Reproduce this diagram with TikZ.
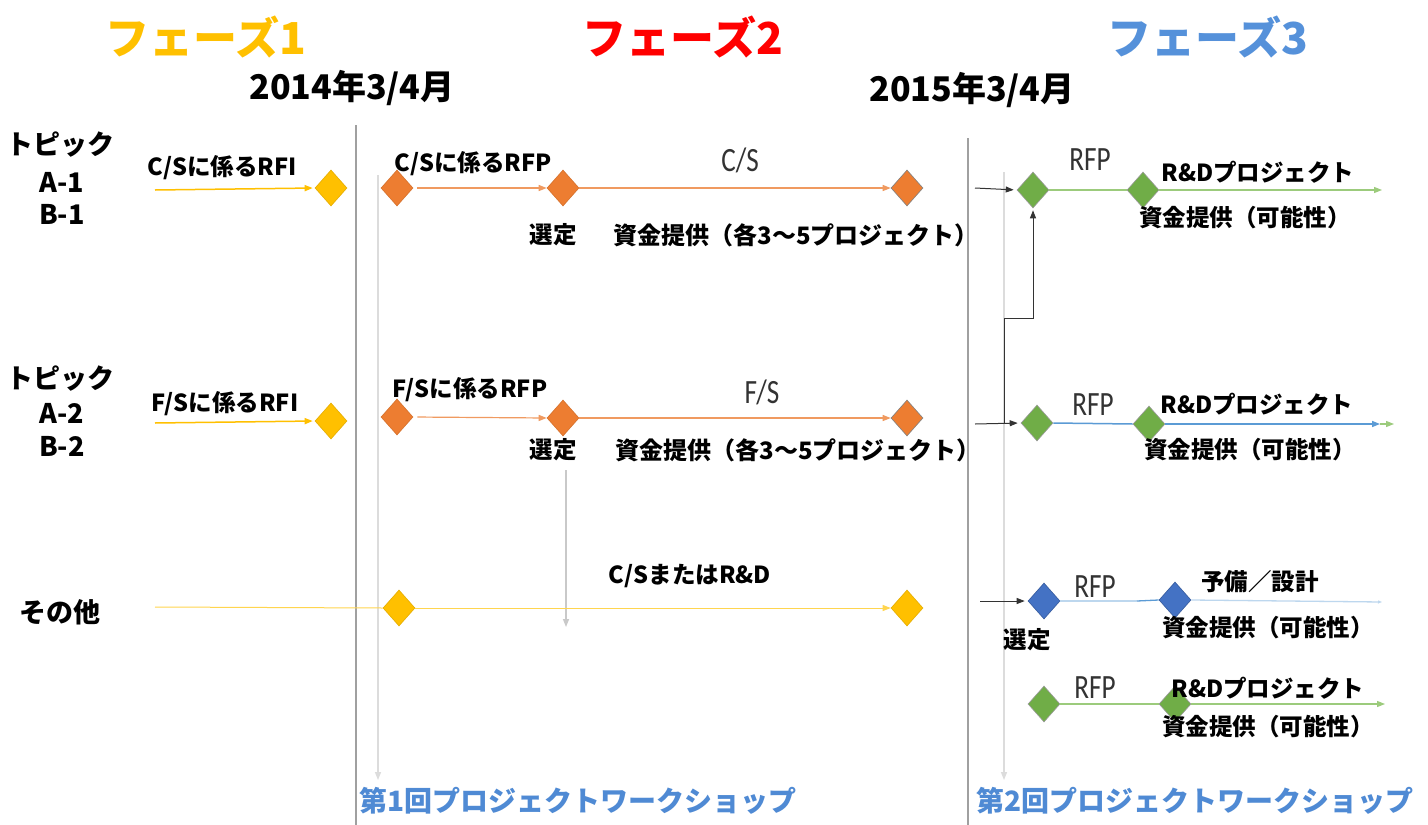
\documentclass[tikz,border=0pt]{standalone}
\usepackage{fontspec}
\setmainfont{Noto Sans CJK JP}
\newfontfamily\thinf{Carlito}[FakeStretch=0.8]
\usetikzlibrary{shapes.geometric,arrows.meta}
\definecolor{yel}{HTML}{FFC000}
\definecolor{yelline}{HTML}{FFD54F}
\definecolor{org}{HTML}{ED7D31}
\definecolor{orgline}{HTML}{F09A60}
\definecolor{grn}{HTML}{70AD47}
\definecolor{grnline}{HTML}{9CCB7C}
\definecolor{blu}{HTML}{4472C4}
\definecolor{bluline}{HTML}{5B9BD5}
\definecolor{blulight}{HTML}{BDD7EE}
\definecolor{ph3}{HTML}{5591DA}
\definecolor{wsblue}{HTML}{4F8AD4}
\definecolor{darkline}{HTML}{A0A0A0}
\definecolor{lightline}{HTML}{DCDCDC}
\begin{document}
\begin{tikzpicture}[x=1pt,y=-1pt,
  lab/.style={font=\bfseries\fontsize{23.5}{23.5}\selectfont, inner sep=0},
  wlab/.style={font=\bfseries\fontsize{24}{24}\selectfont, inner sep=0},
  big/.style={font=\bfseries\fontsize{27}{27}\selectfont, inner sep=0},
  thin/.style={font=\thinf\fontsize{34}{34}\selectfont, text=black!80, inner sep=0},
  phase/.style={font=\bfseries\fontsize{44}{44}\selectfont, inner sep=0},
  date/.style={font=\bfseries\fontsize{34}{34}\selectfont, inner sep=0},
  ws/.style={font=\bfseries\fontsize{28}{28}\selectfont, text=wsblue, inner sep=0},
  dm/.style={diamond, minimum width=32pt, minimum height=36pt, inner sep=0, line width=0.6pt},
  ydia/.style={dm, fill=yel, draw=yel!90!black},
  odia/.style={dm, fill=org, draw=org!90!black},
  gdia/.style={dm, fill=grn, draw=gray!80},
  bdia/.style={dm, fill=blu, draw=blu!80!black},
  tip/.style={-{Triangle[length=8pt,width=6pt]}},
  yarr/.style={tip, draw=yel, line width=1.5pt},
  ythin/.style={draw=yelline, line width=1pt},
  oarr/.style={tip, draw=orgline, line width=1.2pt},
  garr/.style={tip, draw=grnline, line width=1.2pt},
  barr/.style={tip, draw=bluline, line width=1.5pt},
  karr/.style={tip, draw=black!80, line width=1pt},
  vline/.style={draw=darkline, line width=1.8pt},
  lline/.style={-{Triangle[length=8pt,width=6pt]}, draw=lightline, line width=1.4pt},
]
\useasboundingbox (0,0) rectangle (1428,825);
\fill[white] (0,0) rectangle (1428,825);

% headers
\node[phase, text=yel] (p1) at (206,37) {フェーズ1};
\node[phase, text=red] (p2) at (683,37) {フェーズ2};
\node[phase, text=ph3] (p3) at (1208,37) {フェーズ3};
\node[date] (d1) at (352,88) {2014年3/4月};
\node[date] (d2) at (972,90) {2015年3/4月};

% vertical lines
\coordinate (v1t) at (356,125); \coordinate (v1b) at (356,825);
\coordinate (v2t) at (968,138); \coordinate (v2b) at (968,825);
\draw[vline] (v1t) -- (v1b);
\draw[vline] (v2t) -- (v2b);
\coordinate (l1t) at (378,175); \coordinate (l1b) at (378,780);
\coordinate (l2t) at (1004,172); \coordinate (l2b) at (1004,780);
\draw[lline] (l1t) -- (l1b);
\draw[lline] (l2t) -- (l2b);

% row labels
\node[big] (t1) at (60,145) {トピック};
\node[big] (t1a) at (62,182) {A-1};
\node[big] (t1b) at (62,214) {B-1};
\node[big] (t2) at (60,379) {トピック};
\node[big] (t2a) at (62,413) {A-2};
\node[big] (t2b) at (62,446) {B-2};
\node[big] (t3) at (60,612) {その他};

% ---- row 1
\coordinate (a1) at (155,190);
\node[ydia] (y1) at (331,188) {};
\draw[yarr, shorten >=2pt] (a1) -- (y1.west);
\node[odia] (o11) at (397,188) {};
\node[odia] (o12) at (563,188) {};
\node[odia, draw=gray] (o13) at (907,188) {};
\draw[oarr, shorten <=4pt] (o11.east) -- (o12.west);
\draw[oarr] (o12.east) -- (o13.west);
\node[lab] (r1a) at (222,168) {C/Sに係るRFI};
\node[lab] (r1b) at (473,164) {C/Sに係るRFP};
\node[thin] (r1c) at (740,160) {C/S};
\node[lab] (r1d) at (553,235) {選定};
\node[wlab] (r1e) at (796,235) {資金提供（各3〜5プロジェクト）};

% ---- row 2
\coordinate (a2) at (155,423);
\node[ydia] (y2) at (331,421) {};
\draw[yarr, shorten >=2pt] (a2) -- (y2.west);
\node[odia] (o21) at (397,417) {};
\node[odia] (o22) at (563,418) {};
\node[odia, draw=gray] (o23) at (907,418) {};
\draw[oarr, shorten <=4pt] (o21.east) -- (o22.west);
\draw[oarr] (o22.east) -- (o23.west);
\node[lab] (r2a) at (225,404) {F/Sに係るRFI};
\node[lab] (r2b) at (470,390) {F/Sに係るRFP};
\node[thin] (r2c) at (762,392) {F/S};
\node[lab] (r2d) at (553,450) {選定};
\node[wlab] (r2e) at (798,450) {資金提供（各3〜5プロジェクト）};
\coordinate (s2t) at (566,470); \coordinate (s2b) at (566,627);
\draw[lline, draw=lightline!80!gray] (s2t) -- (s2b);

% ---- row 3
\coordinate (a3) at (155,607);
\node[ydia] (y31) at (399,608) {};
\node[ydia] (y32) at (907,608) {};
\draw[ythin] (a3) -- (y31.west);
\draw[ythin, tip] (y31.east) -- (y32.west);
\node[lab] (r3a) at (690,576) {C/SまたはR\&D};

% ---- right side, row 1
\coordinate (b1) at (975,188);
\node[gdia] (g11) at (1033,190) {};
\node[gdia] (g12) at (1143,190) {};
\coordinate (e1) at (1382,190);
\draw[karr, shorten >=3pt] (b1) -- (g11.west);
\draw[draw=grnline, line width=1.2pt] (g11.east) -- (g12.west);
\draw[garr] (g12.east) -- (e1);
\node[thin] (q1a) at (1090,160) {RFP};
\node[lab] (q1b) at (1258,172) {R\&Dプロジェクト};
\node[lab] (q1c) at (1245,218) {資金提供（可能性）};

% ---- right side, row 2
\coordinate (b2) at (975,424);
\node[gdia] (g21) at (1037,423) {};
\node[gdia] (g22) at (1149,424) {};
\coordinate (e2) at (1380,424);
\coordinate (e2g) at (1394,424);
\draw[karr, shorten >=3pt] (b2) -- (g21.west);
\draw[draw=bluline, line width=1.5pt] (g21.east) -- (g22.west);
\draw[barr] (g22.east) -- (e2);
\draw[garr] (e2) -- (e2g);
\coordinate (j1) at (1004,424);
\coordinate (j2) at (1004,318);
\draw[karr, shorten >=2pt] (j1) -- (j2) -| (g11.south);
\node[thin] (q2a) at (1093,405) {RFP};
\node[lab] (q2b) at (1257,404) {R\&Dプロジェクト};
\node[lab] (q2c) at (1250,450) {資金提供（可能性）};

% ---- right side, row 3
\coordinate (b3) at (980,601);
\node[bdia] (b31) at (1044,601) {};
\node[bdia] (b32) at (1175,600) {};
\coordinate (e3) at (1382,602);
\coordinate (m3) at (1137,601);
\draw[karr, shorten >=3pt] (b3) -- (b31.west);
\draw[draw=blulight, line width=1.3pt] (b31.east) -- (m3);
\draw[draw=bluline, line width=1.3pt] (m3) -- (b32.west);
\draw[draw=blulight, line width=1.3pt, -{Triangle[length=4pt,width=3pt]}] (b32.east) -- (e3);
\node[thin] (q3a) at (1095,587) {RFP};
\node[lab] (q3b) at (1260,582) {予備／設計};
\node[lab] (q3c) at (1268,628) {資金提供（可能性）};
\node[lab] (q3d) at (1027,640) {選定};

% ---- right side, row 4
\node[gdia] (g41) at (1044,704) {};
\node[gdia] (g42) at (1175,704) {};
\coordinate (e4) at (1385,704);
\draw[draw=grnline, line width=1.2pt] (g41.east) -- (g42.west);
\draw[garr] (g42.east) -- (e4);
\node[thin] (q4a) at (1095,688) {RFP};
\node[lab] (q4b) at (1268,688) {R\&Dプロジェクト};
\node[lab] (q4c) at (1268,727) {資金提供（可能性）};

% bottom labels
\node[ws] (w1) at (578,801) {第1回プロジェクトワークショップ};
\node[ws] (w2) at (1195,801) {第2回プロジェクトワークショップ};
\end{tikzpicture}
\end{document}
